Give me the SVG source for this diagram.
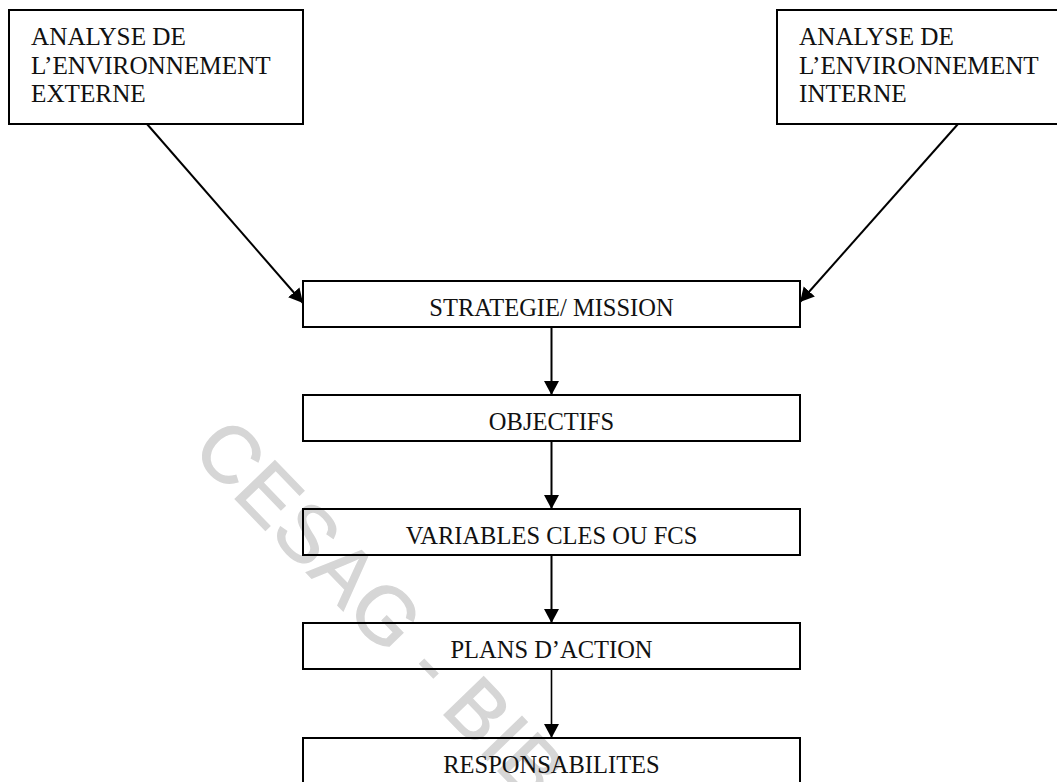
<svg xmlns="http://www.w3.org/2000/svg" width="1057" height="782" viewBox="0 0 1057 782">
  <style>
    .box { fill: none; stroke: #000; stroke-width: 2; }
    .lbl { font-family: "Liberation Serif", "Times New Roman", serif; font-size: 24.5px; fill: #111; }
    .corner { font-size: 25.2px; }
    .mid { text-anchor: middle; }
    .link { stroke: #000; stroke-width: 2; fill: none; marker-end: url(#head); }
    .mark { font-family: "Liberation Sans", Arial, sans-serif; font-size: 80px; fill: #d6d6d6; stroke: #d6d6d6; stroke-width: 1.4; letter-spacing: 1px; }
  </style>
  <defs>
    <marker id="head" viewBox="0 0 14 16" refX="14" refY="8" markerWidth="14" markerHeight="16" markerUnits="userSpaceOnUse" orient="auto">
      <path d="M0,0.5 L14,8 L0,15.5 z" fill="#000"/>
    </marker>
  </defs>

  <rect width="1057" height="782" fill="#fff"/>

  <!-- library stamp running diagonally across the page -->
  <text class="mark" transform="translate(190 452) rotate(46)">CESAG - BIB</text>

  <g id="connectors">
    <line class="link" x1="147" y1="124" x2="303" y2="303"/>
    <line class="link" x1="958" y1="124" x2="800" y2="302"/>
    <line class="link" x1="551.5" y1="327" x2="551.5" y2="395"/>
    <line class="link" x1="551.5" y1="441" x2="551.5" y2="509"/>
    <line class="link" x1="551.5" y1="555" x2="551.5" y2="623"/>
    <line class="link" x1="551.5" y1="669" x2="551.5" y2="738" style="stroke-width:1.6"/>
  </g>

  <g id="env-externe">
    <rect class="box" x="9" y="10" width="294" height="114"/>
    <text class="lbl corner" x="31" y="45">ANALYSE DE</text>
    <text class="lbl corner" x="31" y="73.5">L’ENVIRONNEMENT</text>
    <text class="lbl corner" x="31" y="102">EXTERNE</text>
  </g>

  <g id="env-interne">
    <rect class="box" x="777" y="10" width="290" height="114"/>
    <text class="lbl corner" x="799" y="45">ANALYSE DE</text>
    <text class="lbl corner" x="799" y="73.5">L’ENVIRONNEMENT</text>
    <text class="lbl corner" x="799" y="102">INTERNE</text>
  </g>

  <g id="strategie">
    <rect class="box" x="303" y="281" width="497" height="46"/>
    <text class="lbl mid" x="551.5" y="316">STRATEGIE/ MISSION</text>
  </g>

  <g id="objectifs">
    <rect class="box" x="303" y="395" width="497" height="46"/>
    <text class="lbl mid" x="551.5" y="430">OBJECTIFS</text>
  </g>

  <g id="variables">
    <rect class="box" x="303" y="509" width="497" height="46"/>
    <text class="lbl mid" x="551.5" y="544">VARIABLES CLES OU FCS</text>
  </g>

  <g id="plans">
    <rect class="box" x="303" y="623" width="497" height="46"/>
    <text class="lbl mid" x="551.5" y="658">PLANS D’ACTION</text>
  </g>

  <g id="responsabilites">
    <rect class="box" x="303" y="738" width="497" height="60"/>
    <text class="lbl mid" x="551.5" y="773">RESPONSABILITES</text>
  </g>
</svg>
